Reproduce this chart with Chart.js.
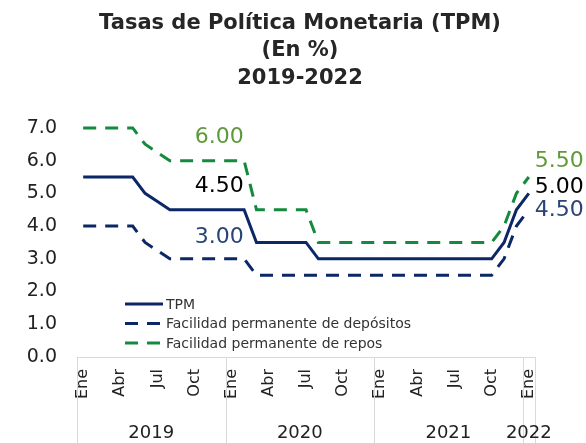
<!DOCTYPE html>
<html>
<head>
<meta charset="utf-8">
<script src="https://cdn.jsdelivr.net/npm/chart.js@4"></script>
<style>
  html, body { margin: 0; padding: 0; background: #fff; }
  #wrap { width: 586px; height: 443px; }
</style>
</head>
<body>
<div id="wrap"><canvas id="tpmChart" width="586" height="443"></canvas></div>
<script>
// meses de ene-2019 a ene-2022
const meses = [
  'Ene', 'Feb', 'Mar', 'Abr', 'May', 'Jun', 'Jul', 'Ago', 'Sep', 'Oct', 'Nov', 'Dic',
  'Ene', 'Feb', 'Mar', 'Abr', 'May', 'Jun', 'Jul', 'Ago', 'Sep', 'Oct', 'Nov', 'Dic',
  'Ene', 'Feb', 'Mar', 'Abr', 'May', 'Jun', 'Jul', 'Ago', 'Sep', 'Oct', 'Nov', 'Dic',
  'Ene'
];
const anios = ['2019', '2020', '2021', '2022'];

const tpm = [
  5.5, 5.5, 5.5, 5.5, 5.5, 5.0, 4.75, 4.5, 4.5, 4.5, 4.5, 4.5,
  4.5, 4.5, 3.5, 3.5, 3.5, 3.5, 3.5, 3.0, 3.0, 3.0, 3.0, 3.0,
  3.0, 3.0, 3.0, 3.0, 3.0, 3.0, 3.0, 3.0, 3.0, 3.0, 3.5, 4.5,
  5.0
];
const depositos = [
  4.0, 4.0, 4.0, 4.0, 4.0, 3.5, 3.25, 3.0, 3.0, 3.0, 3.0, 3.0,
  3.0, 3.0, 2.5, 2.5, 2.5, 2.5, 2.5, 2.5, 2.5, 2.5, 2.5, 2.5,
  2.5, 2.5, 2.5, 2.5, 2.5, 2.5, 2.5, 2.5, 2.5, 2.5, 3.0, 4.0,
  4.5
];
const repos = [
  7.0, 7.0, 7.0, 7.0, 7.0, 6.5, 6.25, 6.0, 6.0, 6.0, 6.0, 6.0,
  6.0, 6.0, 4.5, 4.5, 4.5, 4.5, 4.5, 3.5, 3.5, 3.5, 3.5, 3.5,
  3.5, 3.5, 3.5, 3.5, 3.5, 3.5, 3.5, 3.5, 3.5, 3.5, 4.0, 5.0,
  5.5
];
const yTicks = [0, 1, 2, 3, 4, 5, 6, 7];

const FONT = "'DejaVu Sans', sans-serif";
const NAVY = '#0b2767';
const GREEN = '#138a3e';

// etiquetas de datos (dataset, punto)
const etiquetas = [
  { ds: 2, i: 11, color: '#5f9a3a', dx: 0, dy: -23, align: 'center' },
  { ds: 0, i: 11, color: '#000000', dx: 0, dy: -23, align: 'center' },
  { ds: 1, i: 11, color: '#2a4573', dx: 0, dy: -22, align: 'center' },
  { ds: 2, i: 36, color: '#5f9a3a', dx: 6, dy: -16, align: 'left' },
  { ds: 0, i: 36, color: '#000000', dx: 6, dy: -6, align: 'left' },
  { ds: 1, i: 36, color: '#2a4573', dx: 6, dy: 1, align: 'left' }
];

const dataLabels = {
  id: 'dataLabels',
  afterDatasetsDraw(chart) {
    const ctx = chart.ctx;
    ctx.save();
    ctx.font = '22px ' + FONT;
    ctx.textBaseline = 'middle';
    etiquetas.forEach(e => {
      const pt = chart.getDatasetMeta(e.ds).data[e.i];
      const val = chart.data.datasets[e.ds].data[e.i];
      ctx.fillStyle = e.color;
      ctx.textAlign = e.align;
      ctx.fillText(val.toFixed(2), pt.x + e.dx, pt.y + e.dy);
    });
    ctx.restore();
  }
};

// leyenda dentro del area del grafico
const innerLegend = {
  id: 'innerLegend',
  afterDraw(chart) {
    const ctx = chart.ctx;
    const area = chart.chartArea;
    const x0 = area.left + 48;
    let y = area.top + 176;
    ctx.save();
    ctx.font = '14px ' + FONT;
    ctx.textBaseline = 'middle';
    ctx.textAlign = 'left';
    chart.data.datasets.forEach(ds => {
      ctx.beginPath();
      ctx.strokeStyle = ds.borderColor;
      ctx.lineWidth = 3;
      ctx.setLineDash(ds.borderDash || []);
      ctx.moveTo(x0, y);
      ctx.lineTo(x0 + 38, y);
      ctx.stroke();
      ctx.setLineDash([]);
      ctx.fillStyle = '#333';
      ctx.fillText(ds.label, x0 + 41, y + 1);
      y += 19.5;
    });
    ctx.restore();
  }
};

// separadores y etiquetas de año
const yearGroups = {
  id: 'yearGroups',
  afterDraw(chart) {
    const ctx = chart.ctx;
    const xs = chart.scales.x;
    const half = (xs.getPixelForValue(1) - xs.getPixelForValue(0)) / 2;
    const groups = [];
    meses.forEach((m, i) => {
      if (m === 'Ene') groups.push({ start: i, end: i });
      else groups[groups.length - 1].end = i;
    });
    ctx.save();
    ctx.strokeStyle = '#d9d9d9';
    ctx.lineWidth = 1;
    ctx.font = '18px ' + FONT;
    ctx.fillStyle = '#222';
    ctx.textAlign = 'center';
    ctx.textBaseline = 'middle';
    groups.forEach((g, k) => {
      const x1 = xs.getPixelForValue(g.start) - half;
      const x2 = xs.getPixelForValue(g.end) + half;
      [x1, x2].forEach(x => {
        ctx.beginPath();
        ctx.moveTo(Math.round(x) + 0.5, xs.top);
        ctx.lineTo(Math.round(x) + 0.5, chart.height);
        ctx.stroke();
      });
      ctx.fillText(anios[k], (x1 + x2) / 2, xs.top + 76);
    });
    ctx.restore();
  }
};

new Chart(document.getElementById('tpmChart'), {
  type: 'line',
  data: {
    labels: meses,
    datasets: [
      {
        label: 'TPM',
        data: tpm,
        borderColor: NAVY,
        borderWidth: 3,
        pointRadius: 0,
        tension: 0,
        clip: 6
      },
      {
        label: 'Facilidad permanente de depósitos',
        data: depositos,
        borderColor: NAVY,
        borderWidth: 3,
        borderDash: [13, 9],
        pointRadius: 0,
        tension: 0,
        clip: 6
      },
      {
        label: 'Facilidad permanente de repos',
        data: repos,
        borderColor: GREEN,
        borderWidth: 3,
        borderDash: [13, 9],
        pointRadius: 0,
        tension: 0,
        clip: 6
      }
    ]
  },
  options: {
    responsive: false,
    animation: false,
    layout: { padding: { left: 14, right: 0, top: 0, bottom: 0 } },
    scales: {
      x: {
        offset: true,
        grid: { display: false, drawTicks: false },
        border: { display: true, color: '#d9d9d9', width: 1 },
        afterFit: s => { s.height = 86; },
        ticks: {
          autoSkip: false,
          minRotation: 90,
          maxRotation: 90,
          padding: 12,
          color: '#222',
          font: { family: FONT, size: 16 },
          callback: (v, i) => (i % 3 === 0 ? meses[i] : '')
        }
      },
      y: {
        min: 0,
        max: 7,
        afterFit: s => { s.width = 63; },
        afterBuildTicks: s => { s.ticks = yTicks.map(v => ({ value: v })); },
        grid: { display: false, drawTicks: false },
        border: { display: false },
        ticks: {
          padding: 20,
          color: '#222',
          font: { family: FONT, size: 19 },
          callback: v => v.toFixed(1)
        }
      },
      // eje vacio a la derecha, deja sitio para las etiquetas finales
      yRight: {
        position: 'right',
        min: 0,
        max: 7,
        afterFit: s => { s.width = 51; },
        grid: { display: false, drawTicks: false },
        border: { display: false },
        ticks: { display: false }
      }
    },
    plugins: {
      legend: { display: false },
      tooltip: { enabled: false },
      title: {
        display: true,
        text: ['Tasas de Política Monetaria (TPM)', '(En %)', '2019-2022'],
        color: '#262626',
        font: { family: FONT, size: 21, weight: 'bold', lineHeight: 1.3 },
        padding: { top: 10, bottom: 36 }
      }
    }
  },
  plugins: [dataLabels, innerLegend, yearGroups]
});
</script>
</body>
</html>
